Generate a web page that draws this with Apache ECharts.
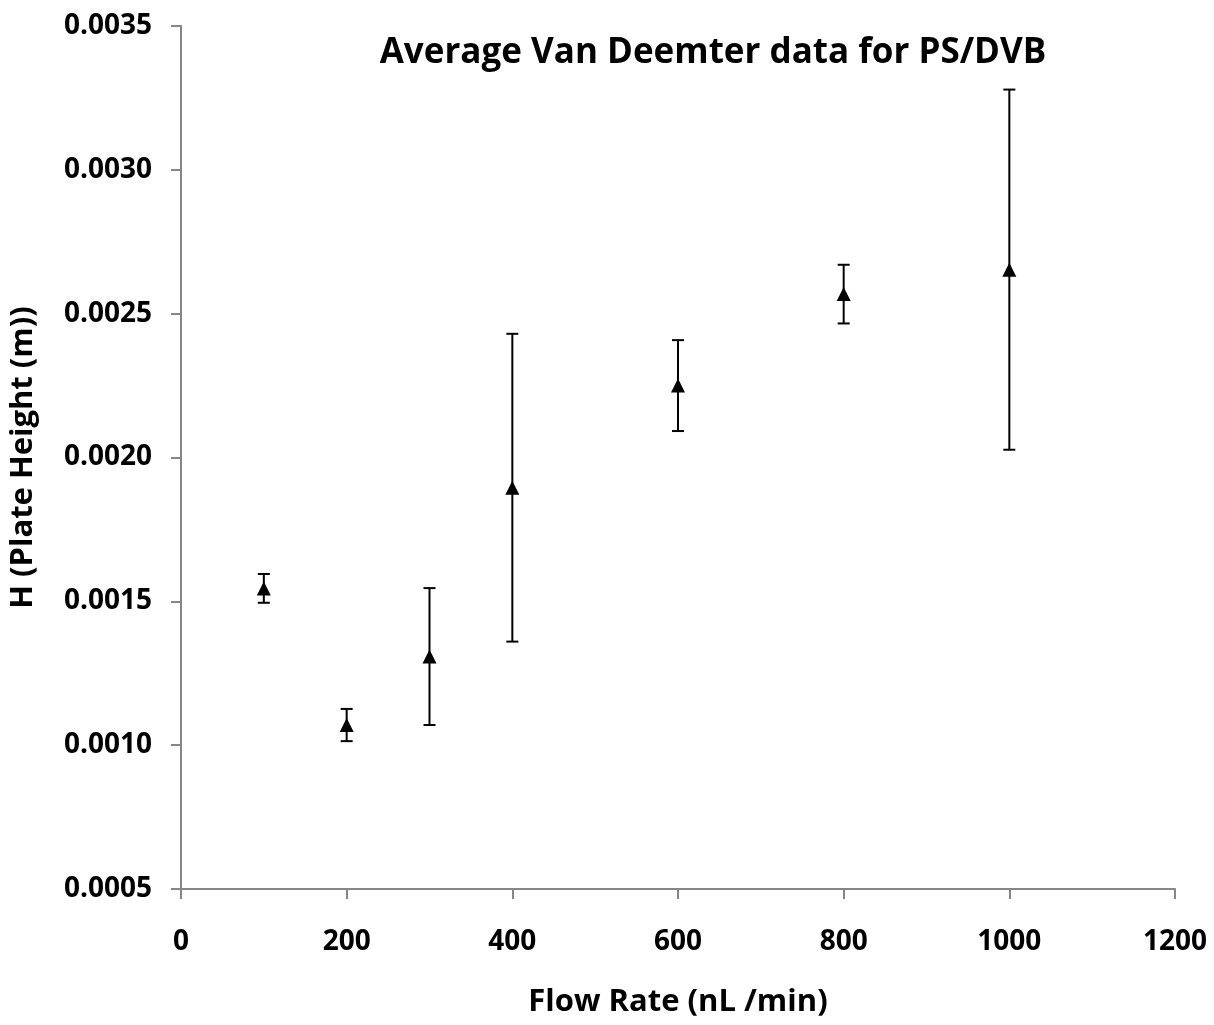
<!DOCTYPE html>
<html>
<head>
<meta charset="utf-8">
<script src="https://cdn.jsdelivr.net/npm/echarts@6/dist/echarts.min.js"></script>
<style>html,body{margin:0;padding:0;background:#fff}#c{width:1214px;height:1025px}</style>
</head>
<body>
<div id="c"></div>
<script>
const flowRates = [100, 200, 300, 400, 600, 800, 1000];
const plateHeight = [0.001545, 0.00107, 0.001308, 0.001895, 0.00225, 0.002568, 0.002653];
const plateHeightErr = [0.00005, 0.000056, 0.000238, 0.000535, 0.000158, 0.000102, 0.000626];
const xTicks = [0, 200, 400, 600, 800, 1000, 1200];
const yTicks = [0.0005, 0.0010, 0.0015, 0.0020, 0.0025, 0.0030, 0.0035];

const FONT = '"Open Sans", sans-serif';
const points = flowRates.map((x, i) => [x, plateHeight[i]]);
const bars = flowRates.map((x, i) => [x, plateHeight[i] - plateHeightErr[i], plateHeight[i] + plateHeightErr[i]]);

const chart = echarts.init(document.getElementById('c'), null, {renderer: 'canvas'});
chart.setOption({
  animation: false,
  backgroundColor: '#fff',
  title: {
    text: 'Average Van Deemter data for PS/DVB',
    left: 708, top: 31, textAlign: 'center',
    textStyle: {fontFamily: FONT, fontWeight: 'bold', fontSize: 35, color: '#000'}
  },
  grid: {left: 181, top: 26, width: 994, height: 863, containLabel: false, outerBoundsMode: 'none'},
  xAxis: {
    type: 'value', min: xTicks[0], max: xTicks[xTicks.length - 1], interval: 200,
    name: 'Flow Rate (nL /min)', nameLocation: 'middle', nameGap: 98,
    nameTextStyle: {fontFamily: FONT, fontWeight: 'bold', fontSize: 31, color: '#000'},
    axisLine: {lineStyle: {color: '#868686', width: 2}},
    axisTick: {show: true, length: 10, lineStyle: {color: '#868686', width: 2}},
    axisLabel: {fontFamily: FONT, fontWeight: 'bold', fontSize: 28, color: '#000', margin: 39,
      formatter: v => String(v)},
    splitLine: {show: false}
  },
  yAxis: {
    type: 'value', min: yTicks[0], max: yTicks[yTicks.length - 1], interval: 0.0005,
    name: 'H (Plate Height (m))', nameLocation: 'middle', nameGap: 142,
    nameTextStyle: {fontFamily: FONT, fontWeight: 'bold', fontSize: 31, color: '#000'},
    axisLine: {lineStyle: {color: '#868686', width: 2}},
    axisTick: {show: true, length: 10, lineStyle: {color: '#868686', width: 2}},
    axisLabel: {fontFamily: FONT, fontWeight: 'bold', fontSize: 28, color: '#000', margin: 29,
      formatter: v => v.toFixed(4)},
    splitLine: {show: false}
  },
  series: [
    {
      type: 'custom',
      data: bars,
      renderItem: function (params, api) {
        const x = api.value(0);
        const lo = api.coord([x, api.value(1)]);
        const hi = api.coord([x, api.value(2)]);
        const w = 6;
        const st = {stroke: '#000', lineWidth: 2};
        return {
          type: 'group',
          children: [
            {type: 'line', shape: {x1: lo[0], y1: lo[1], x2: hi[0], y2: hi[1]}, style: st},
            {type: 'line', shape: {x1: lo[0] - w, y1: lo[1], x2: lo[0] + w, y2: lo[1]}, style: st},
            {type: 'line', shape: {x1: hi[0] - w, y1: hi[1], x2: hi[0] + w, y2: hi[1]}, style: st}
          ]
        };
      },
      z: 2
    },
    {
      type: 'scatter',
      data: points,
      symbol: 'triangle',
      symbolSize: 14,
      itemStyle: {color: '#000', opacity: 1},
      z: 3
    }
  ]
});
</script>
</body>
</html>
